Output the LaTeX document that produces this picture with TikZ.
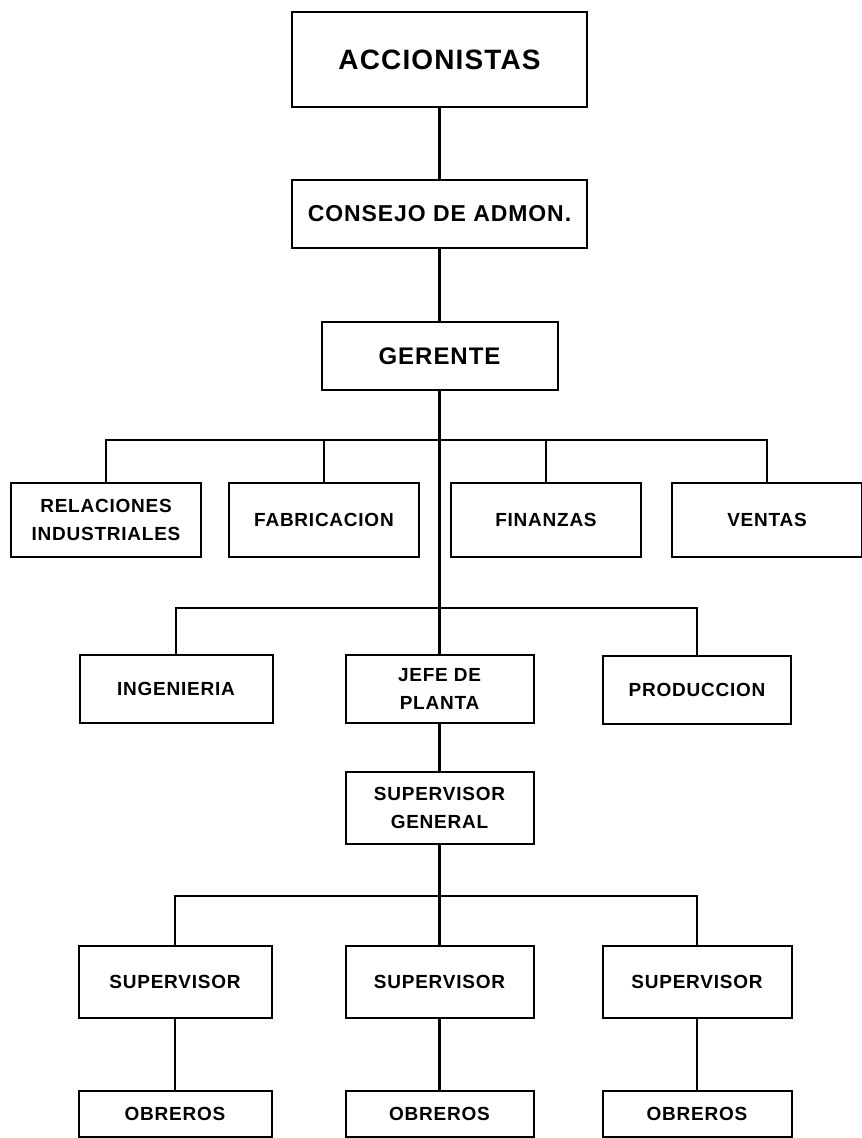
\documentclass[tikz,border=0pt]{standalone}
\usepackage{fontspec}
\newfontfamily\orgfont[LetterSpace=4]{Liberation Sans}

\begin{document}
\begin{tikzpicture}[
	x=0.5pt, y=-0.5pt,
	caja/.style={draw, line width=1pt, inner sep=0pt, align=center,
		minimum width=95pt, minimum height=36pt,
		font=\orgfont\bfseries\fontsize{9.5}{14}\selectfont},
	enlace/.style={line width=1.4pt}]
\useasboundingbox (0,0) rectangle (861,1138);
\node[caja, minimum width=147.5pt, minimum height=47.5pt,
	font=\orgfont\bfseries\fontsize{14}{16}\selectfont] (acc) at (439.5,60) {ACCIONISTAS};
\node[caja, minimum width=147.5pt, minimum height=34pt,
	font=\orgfont\bfseries\fontsize{11.5}{15}\selectfont] (con) at (439.5,214) {CONSEJO DE ADMON.};
\node[caja, minimum width=118pt, minimum height=34pt,
	font=\orgfont\bfseries\fontsize{12}{15}\selectfont] (ger) at (439.5,356) {GERENTE};

\node[caja, minimum height=37pt] (rel) at (106,520) {RELACIONES\\INDUSTRIALES};
\node[caja, minimum height=37pt] (fab) at (324,520) {FABRICACION};
\node[caja, minimum height=37pt] (fin) at (546,520) {FINANZAS};
\node[caja, minimum height=37pt] (ven) at (767,520) {VENTAS};

\node[caja, minimum height=34pt, minimum width=96.5pt] (ing) at (176,689) {INGENIERIA};
\node[caja, minimum height=34pt, minimum width=94pt] (jef) at (439.5,689) {JEFE DE\\PLANTA};
\node[caja, minimum height=34pt, minimum width=94pt] (pro) at (697,690) {PRODUCCION};

\node[caja, minimum width=94pt] (sgen) at (439.5,808) {SUPERVISOR\\GENERAL};

\node[caja, minimum width=96.5pt] (sup1) at (175,982) {SUPERVISOR};
\node[caja, minimum width=94pt] (sup2) at (439.5,982) {SUPERVISOR};
\node[caja, minimum width=94.5pt] (sup3) at (697,982) {SUPERVISOR};

\node[caja, minimum width=96.5pt, minimum height=23pt] (obr1) at (175,1114) {OBREROS};
\node[caja, minimum width=94pt, minimum height=23pt] (obr2) at (439.5,1114) {OBREROS};
\node[caja, minimum width=94.5pt, minimum height=23pt] (obr3) at (697,1114) {OBREROS};

\coordinate (b1) at (439.5,440);
\coordinate (b2) at (439.5,608);
\coordinate (b3) at (439.5,896);

\draw[enlace] (acc) -- (con);
\draw[enlace] (con) -- (ger);
\draw[enlace] (ger) -- (jef);
\draw[enlace] (rel.north) |- (b1) -| (ven.north);
\draw[enlace] (fab.north) -- (fab.north |- b1);
\draw[enlace] (fin.north) -- (fin.north |- b1);
\draw[enlace] (ing.north) |- (b2) -| (pro.north);
\draw[enlace] (jef) -- (sgen);
\draw[enlace] (sgen) -- (sup2);
\draw[enlace] (sup1.north) |- (b3) -| (sup3.north);
\foreach \i in {1,2,3}
	\draw[enlace] (sup\i) -- (obr\i);
\end{tikzpicture}
\end{document}
